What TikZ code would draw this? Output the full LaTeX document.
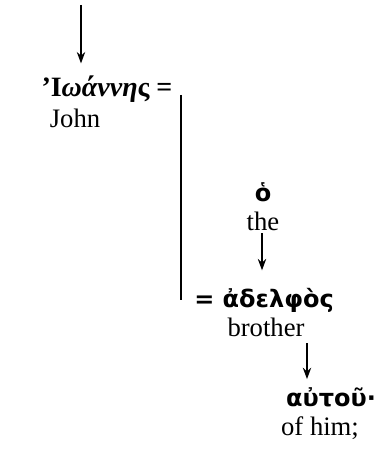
\documentclass[tikz,border=0pt]{standalone}
\usepackage{fontspec}
\setmainfont{Liberation Serif}
\newfontfamily\grksans{DejaVu Sans}
\usetikzlibrary{arrows.meta, positioning}

\begin{document}
\begin{tikzpicture}[
    x=0.75pt, y=-0.75pt,
    eng/.style={inner sep=0pt, font=\fontsize{20}{24}\selectfont},
    grk/.style={inner sep=0pt, font=\fontsize{21}{25}\selectfont\bfseries},
    grks/.style={inner sep=0pt, font=\fontsize{18}{22}\selectfont\grksans\bfseries},
    arrow/.style={-{Stealth[length=3mm, width=2.2mm]}, line width=1.2pt},
    bar/.style={line width=1.2pt}
]
\useasboundingbox (0,0) rectangle (388,459);

% subject
\coordinate (start) at (81,5);
\node[grk] (ioannes) at (107,89) {’Ι\textit{ωάννη}ς =};
\node[eng] (john) at (75,118) {John};

% predicate
\node[grks] (ho) at (263,192) {ὁ};
\node[eng] (the) at (263,221) {the};
\coordinate (art) at (262,233);
\node[grks] (adelphos) at (264,300) {= ἀδελφὸς};
\node[eng] (brother) at (266,327) {brother};
\coordinate (gen) at (307,343);
\node[grks] (autou) at (331,397) {αὐτοῦ·};
\node[eng] (ofhim) at (320,428) {of him;};

% bar
\coordinate (bartop) at (181,95);
\coordinate (barbot) at (181,300);
\draw[bar] (bartop) -- (barbot);

% arrows
\draw[arrow, shorten >=9pt] (start) -- (start |- ioannes.north);
\draw[arrow, shorten >=13pt] (art) -- (art |- adelphos.north);
\draw[arrow, shorten >=6pt] (gen) -- (gen |- autou.north);

\end{tikzpicture}
\end{document}
